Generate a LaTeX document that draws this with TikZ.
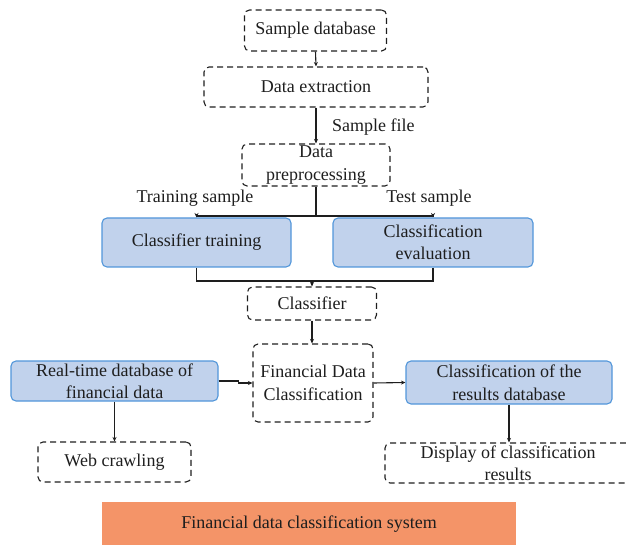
\documentclass[tikz,border=0pt]{standalone}
\usepackage{fontspec}
\setmainfont{Liberation Serif}
\usetikzlibrary{arrows.meta}
\definecolor{boxblue}{RGB}{193,210,236}
\definecolor{edgeblue}{RGB}{82,150,218}
\definecolor{sysorange}{RGB}{244,148,104}
\definecolor{ink}{RGB}{30,30,30}
\tikzset{
  every node/.style={font=\fontsize{18}{22.5}\selectfont, text=ink},
  dashbox/.style={draw=ink, dash pattern=on 6pt off 4pt, line width=1.1pt,
    rounded corners=5pt, inner sep=0pt, align=center},
  bluebox/.style={draw=edgeblue, fill=boxblue, line width=1.1pt,
    rounded corners=5pt, inner sep=0pt, align=center},
  flow/.style={draw=ink, line width=1.1pt, -{Stealth[length=4.5pt,width=4pt]}},
  plain/.style={draw=ink, line width=1.1pt},
}
\begin{document}
\begin{tikzpicture}[x=1pt,y=-1pt]
\useasboundingbox (0,0) rectangle (626,545);

% processing chain
\node[dashbox, minimum width=142pt, minimum height=41pt] (sdb) at (315.5,30.5) {Sample database};
\node[dashbox, minimum width=224pt, minimum height=40pt] (ext) at (316,87) {Data extraction};
\node[dashbox, minimum width=148pt, minimum height=42pt] (pre) at (316,165) {Data\\preprocessing};
\node[bluebox, minimum width=189pt, minimum height=49pt] (ctr) at (196.5,242.5) {Classifier training};
\node[bluebox, minimum width=200pt, minimum height=49pt] (cev) at (433,242.5) {Classification\\evaluation};
\node[dashbox, minimum width=129pt, minimum height=33pt] (cls) at (312,303.5) {Classifier};
\node[dashbox, minimum width=120pt, minimum height=78pt] (fdc) at (313,383) {Financial Data\\Classification};
\node[bluebox, minimum width=207pt, minimum height=40pt] (rtd) at (114.5,381) {Real-time database of\\financial data};
\node[bluebox, minimum width=206pt, minimum height=43pt] (res) at (509,382.5) {Classification of the\\results database};
\node[dashbox, minimum width=153pt, minimum height=40pt] (web) at (114.5,462) {Web crawling};
\node[dashbox, minimum width=246pt, minimum height=40pt] (dsp) at (508,463) {Display of classification\\results};

% system banner
\node[fill=sysorange, minimum width=414pt, minimum height=45pt, inner sep=0pt] (sys) at (309,524) {Financial data classification system};

% labels on connectors
\node[anchor=west, inner sep=0pt] (lsf) at (332,127) {Sample file};
\node[inner sep=0pt] (ltr) at (195,198) {Training sample};
\node[inner sep=0pt] (lts) at (429,198) {Test sample};

% split and merge points
\coordinate (split) at (316,216);
\coordinate (mrg) at (312,281);

% connectors
\draw[flow] (sdb.south) -- (ext.north);
\draw[flow] (ext.south) -- (pre.north);
\draw[plain] (pre.south) -- (split);
\draw[flow] (split) -| (ctr.north);
\draw[flow] (split) -| (cev.north);
\draw[plain] (ctr.south) |- (mrg);
\draw[plain] (cev.south) |- (mrg);
\draw[flow] (mrg) -- (cls.north);
\draw[flow] (cls.south) -- (cls.south |- fdc.north);
\draw[flow] (rtd.east) -- ++(20,0) |- (fdc.west);
\draw[flow] (fdc.east) -- (res.west);
\draw[flow] (rtd.south) -- (web.north);
\draw[flow] (res.south) -- (res.south |- dsp.north);
\end{tikzpicture}
\end{document}
